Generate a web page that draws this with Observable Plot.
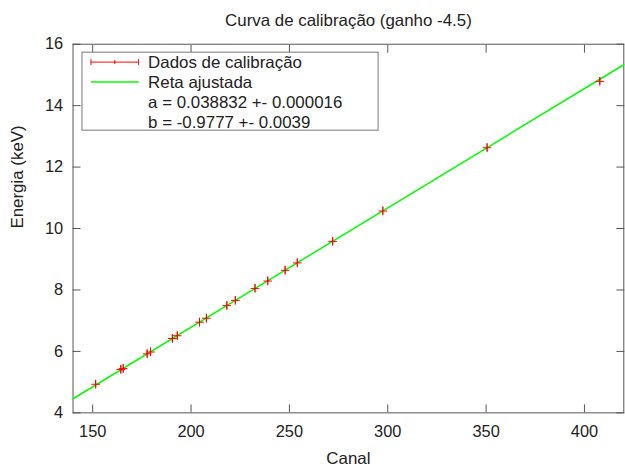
<!DOCTYPE html>
<html>
<head>
<meta charset="utf-8">
<script src="https://cdn.jsdelivr.net/npm/d3@7"></script>
<script src="https://cdn.jsdelivr.net/npm/@observablehq/plot@0.6"></script>
<style>
  html, body { margin: 0; padding: 0; background: white; overflow: hidden; }
</style>
</head>
<body>
<div id="chart"></div>
<script>
// Data
const canal   = [151.5, 164.3, 165.5, 177.7, 179.4, 190.5, 193.0, 204.3, 207.8, 218.2, 222.5, 232.5, 239.0, 247.8, 254.0, 272.0, 297.5, 350.5, 407.8];
const energia = [4.93, 5.41, 5.44, 5.92, 5.98, 6.42, 6.51, 6.95, 7.08, 7.49, 7.66, 8.05, 8.29, 8.64, 8.88, 9.58, 10.57, 12.63, 14.79];
const erro    = [0.13, 0.13, 0.13, 0.13, 0.13, 0.13, 0.13, 0.13, 0.13, 0.13, 0.13, 0.13, 0.13, 0.13, 0.13, 0.13, 0.13, 0.13, 0.13];
const fitX = [140, 420];
const fitY = [4.4588, 15.3317];
const xTicks = [150, 200, 250, 300, 350, 400];
const yTicks = [4, 6, 8, 10, 12, 14, 16];
const titulo = "Curva de calibração (ganho -4.5)";
const xLabel = "Canal";
const yLabel = "Energia (keV)";
const legendaTextos = ["Dados de calibração", "Reta ajustada", "a = 0.038832 +- 0.000016", "b = -0.9777 +- 0.0039"];

const pontos = canal.map((c, i) => ({x: c, y: energia[i], e: erro[i]}));
const reta = fitX.map((x, i) => ({x, y: fitY[i]}));

const axisColor = "#555";
const chart = Plot.plot({
  width: 629,
  height: 472,
  marginLeft: 73,
  marginRight: 1.7,
  marginTop: 44,
  marginBottom: 57,
  x: {domain: [140, 420]},
  y: {domain: [4, 16]},
  style: {fontFamily: "'Liberation Sans', Arial, sans-serif", fontSize: "16px", color: "#222", background: "white"},
  marks: [
    Plot.frame({stroke: axisColor}),
    Plot.axisX(xTicks, {anchor: "bottom", tickSize: -8, tickFormat: () => "", stroke: axisColor, label: null}),
    Plot.axisX(xTicks, {anchor: "top", tickSize: -8, tickFormat: () => "", stroke: axisColor, label: null}),
    Plot.axisY(yTicks, {anchor: "left", tickSize: -8, tickFormat: () => "", stroke: axisColor, label: null}),
    Plot.axisY(yTicks, {anchor: "right", tickSize: -8, tickFormat: () => "", stroke: axisColor, label: null}),
    Plot.axisX(xTicks, {anchor: "bottom", tickSize: 0, tickPadding: 13, fontSize: 16.5, label: null}),
    Plot.axisY(yTicks, {anchor: "left", tickSize: 0, tickPadding: 10, fontSize: 16.5, label: null}),
    Plot.text([titulo], {frameAnchor: "top", dy: -30, fontSize: 17, fill: "#222"}),
    Plot.text([xLabel], {frameAnchor: "bottom", dy: 51, fontSize: 17, fill: "#222"}),
    Plot.text([yLabel], {frameAnchor: "left", dx: -56, rotate: -90, fontSize: 17, fill: "#222"}),
    Plot.line(reta, {x: "x", y: "y", stroke: "#00ff00", strokeWidth: 1.5}),
    Plot.ruleX(pontos, {x: "x", y1: d => d.y - d.e, y2: d => d.y + d.e, stroke: "#ff0000", strokeWidth: 1}),
    Plot.dot(pontos, {x: "x", y: "y", symbol: "plus", r: 2.9, stroke: "#ff0000", strokeWidth: 1})
  ]
});

// Legend box (gnuplot style key)
const svg = d3.select(chart);
const g = svg.append("g").attr("text-anchor", "start");
g.append("rect").attr("x", 82.5).attr("y", 52.5).attr("width", 298).attr("height", 78.5)
  .attr("fill", "white").attr("stroke", "#777").attr("stroke-width", 1);
// error-bar sample
g.append("path").attr("d", "M91.5,62.5H139.5M91.5,59.5V65.5M139.5,59.5V65.5M115.5,60.5V64.5")
  .attr("stroke", "#ff0000").attr("fill", "none").attr("stroke-width", 1);
// line sample
g.append("path").attr("d", "M91.5,82.5H139.5").attr("stroke", "#00ff00").attr("stroke-width", 1.5);
legendaTextos.forEach((t, i) => {
  g.append("text").attr("x", 149).attr("y", 62.5 + 20 * i).attr("dy", "0.35em")
    .attr("text-anchor", "start").attr("font-size", 17).attr("fill", "#222").text(t);
});

document.getElementById("chart").appendChild(chart);
</script>
</body>
</html>
